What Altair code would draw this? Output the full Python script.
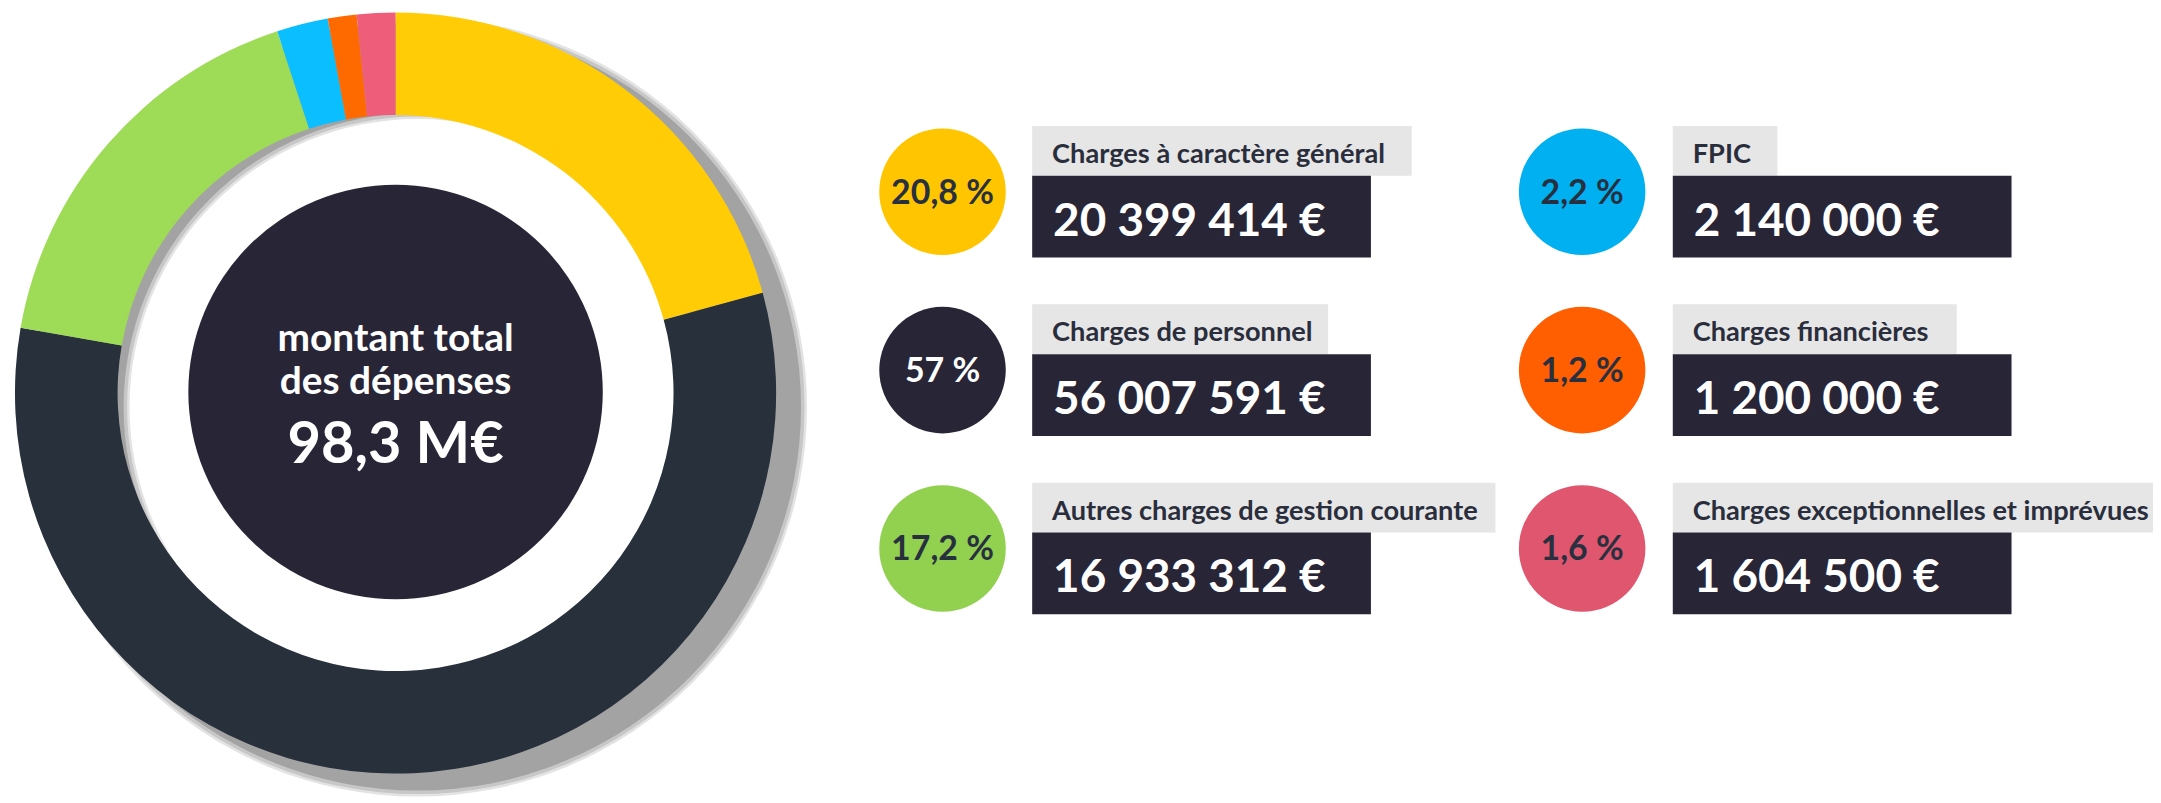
import altair as alt
import pandas as pd

# ---------------- data ----------------
categories = [
    "Charges à caractère général",
    "Charges de personnel",
    "Autres charges de gestion courante",
    "FPIC",
    "Charges financières",
    "Charges exceptionnelles et imprévues",
]
amounts = [20399414, 56007591, 16933312, 2140000, 1200000, 1604500]
pct_labels = ["20,8 %", "57 %", "17,2 %", "2,2 %", "1,2 %", "1,6 %"]
ring_colors = ["#FFCC05", "#27303B", "#9EDC57", "#0ABEFF", "#FF6A00", "#EE5E7A"]
badge_colors = ["#FFC600", "#282537", "#92D050", "#00B0F0", "#FF5F00", "#E0566F"]
pct_text_colors = ["#283040", "#FFFFFF", "#283040", "#283040", "#283040", "#283040"]
center_lines = ["montant total", "des dépenses"]
total_label = "98,3 M€"

# ---------------- layout (reference pixel space) ----------------
M = 8
W, H = 2153, 790
DCX, DCY = 397, 393
R_OUT, R_IN, R_CORE = 382, 279, 208
SH_DX, SH_DY = 22, 14
FONT = "Lato"
DARK = "#282537"
LABEL_BG = "#E6E6E6"
LABEL_FG = "#2A2E3C"

amount_labels = [f"{v:,}".replace(",", " ") + " €" for v in amounts]

df = pd.DataFrame({
    "cat": categories,
    "amount": amounts,
    "amount_label": amount_labels,
    "pct": pct_labels,
    "ring_color": ring_colors,
    "badge_color": badge_colors,
    "pct_color": pct_text_colors,
})
df["idx"] = range(len(df))
df["col"] = df["idx"] // 3
df["row"] = df["idx"] % 3
# label box width derived from label length
df["label_w"] = [12 * len(s) + 57 for s in categories]

xs = alt.Scale(domain=[M, M + W], range=[0, W], nice=False, zero=False)
ys = alt.Scale(domain=[M, M + H], range=[0, H], nice=False, zero=False)


def X(f):
    return alt.X(f, type="quantitative", scale=xs, axis=None)


def Y(f):
    return alt.Y(f, type="quantitative", scale=ys, axis=None)


cards = alt.Chart(df).transform_calculate(
    cx="946 + 642 * datum.col",
    cy="191 + 179 * datum.row",
    bx="1036 + 643 * datum.col",
    top="125 + 179 * datum.row",
).transform_calculate(
    gray_bottom="datum.top + 50",
    dark_bottom="datum.top + 132",
    dark_right="datum.bx + 340",
    gray_right="datum.bx + datum.label_w",
    label_x="datum.bx + 20",
    label_y="datum.top + 37",
    value_x="datum.bx + 21",
    value_y="datum.top + 110",
    pct_y="datum.cy + 12",
)

gray_box = cards.mark_rect(color=LABEL_BG).encode(
    x=X("bx"), x2="gray_right", y=Y("top"), y2="gray_bottom"
)
dark_box = cards.mark_rect(color=DARK).encode(
    x=X("bx"), x2="dark_right", y=Y("gray_bottom"), y2="dark_bottom"
)
badge = cards.mark_circle(size=127 ** 2, opacity=1).encode(
    x=X("cx"), y=Y("cy"), color=alt.Color("badge_color:N", scale=None)
)
pct_text = cards.mark_text(
    font=FONT, fontWeight="bold", fontSize=34, align="center", baseline="alphabetic"
).encode(
    x=X("cx"), y=Y("pct_y"), text="pct:N", color=alt.Color("pct_color:N", scale=None)
)
label_text = cards.mark_text(
    font=FONT, fontWeight="bold", fontSize=27.3, align="left", baseline="alphabetic",
    color=LABEL_FG,
).encode(x=X("label_x"), y=Y("label_y"), text="cat:N")
value_text = cards.mark_text(
    font=FONT, fontWeight="bold", fontSize=46, align="left", baseline="alphabetic",
    color="#FFFFFF",
).encode(x=X("value_x"), y=Y("value_y"), text="amount_label:N")

# ---------------- donut ----------------
total = alt.Chart(df).transform_aggregate(total="sum(amount)")

shadows = []
for dr, op in [(5, 0.3), (2.5, 0.45), (-1, 1.0)]:
    shadows.append(
        total.mark_arc(
            outerRadius=R_OUT + 4 + dr, innerRadius=R_IN + 15 - dr,
            color="#A3A3A3", opacity=op,
        ).encode(
            theta=alt.Theta("total:Q"),
            x=alt.value(DCX + SH_DX - M),
            y=alt.value(DCY + SH_DY - M),
        )
    )

ring = alt.Chart(df).mark_arc(outerRadius=R_OUT, innerRadius=R_IN).encode(
    theta=alt.Theta("amount:Q", stack=True),
    order=alt.Order("idx:Q", sort="ascending"),
    color=alt.Color("ring_color:N", scale=None),
    x=alt.value(DCX - M),
    y=alt.value(DCY - M),
)

core = total.mark_circle(size=(2 * R_CORE) ** 2, opacity=1, color=DARK).encode(
    x=alt.value(DCX - M), y=alt.value(DCY - 1 - M)
)

center_df = pd.DataFrame({"line": center_lines, "k": [0, 1]})
center_text = alt.Chart(center_df).transform_calculate(
    ty="351 + 43 * datum.k", tx=str(DCX)
).mark_text(
    font=FONT, fontWeight="bold", fontSize=39, align="center", baseline="alphabetic",
    color="#FFFFFF",
).encode(x=X("tx"), y=Y("ty"), text="line:N")

total_text = alt.Chart(pd.DataFrame({"t": [total_label]})).transform_calculate(
    ty="463", tx=str(DCX)
).mark_text(
    font=FONT, fontWeight="bold", fontSize=58, align="center", baseline="alphabetic",
    color="#FFFFFF",
).encode(x=X("tx"), y=Y("ty"), text="t:N")

chart = alt.layer(
    *shadows, ring, core, center_text, total_text,
    gray_box, dark_box, badge, pct_text, label_text, value_text,
).resolve_scale(color="independent").properties(
    width=W, height=H, padding=0, autosize=alt.AutoSizeParams(type="none"),
    background="#FFFFFF",
).configure_view(stroke=None)

chart.save("out.html", embed_options={"renderer": "svg", "actions": False})
